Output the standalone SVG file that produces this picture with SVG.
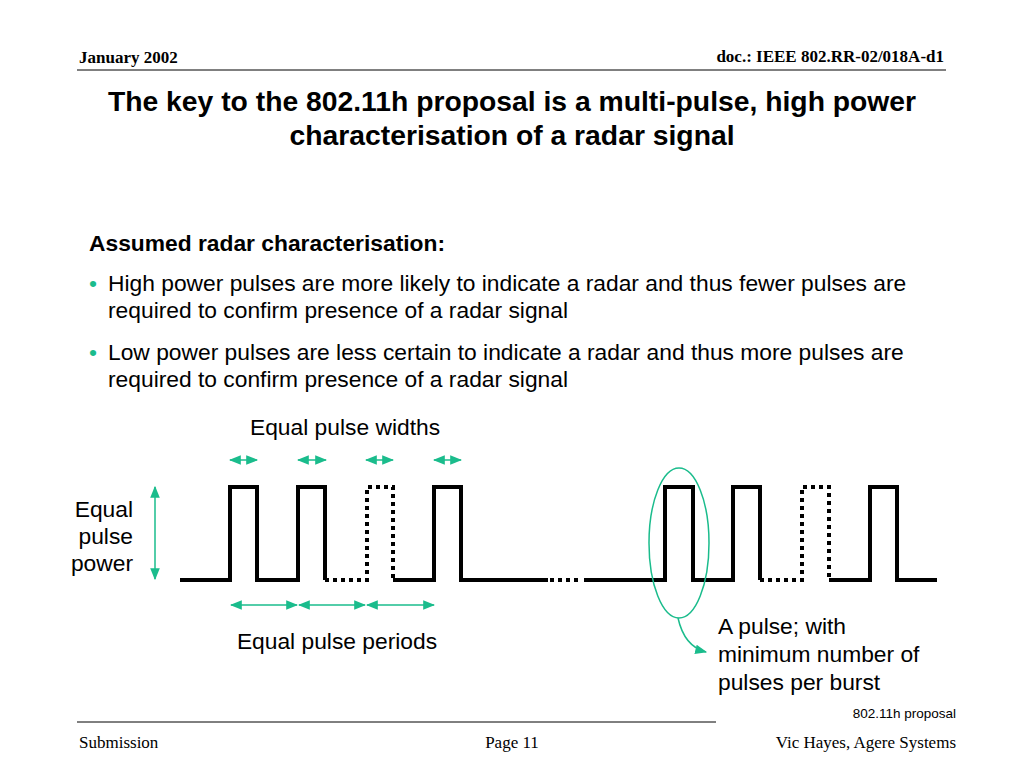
<svg xmlns="http://www.w3.org/2000/svg" width="1024" height="768" viewBox="0 0 1024 768">
<style>
.t{font-family:"Liberation Serif",serif;font-weight:bold;font-size:17px}
.f{font-family:"Liberation Serif",serif;font-size:17px}
.s{font-family:"Liberation Sans",Arial,sans-serif;font-size:22.8px}
.h{font-family:"Liberation Sans",Arial,sans-serif;font-size:28.3px;font-weight:bold}
.w{fill:none;stroke:#000;stroke-width:4}
.d{fill:none;stroke:#000;stroke-width:4;stroke-dasharray:4 4}
.a{stroke:#1abc8c;stroke-width:1.5;fill:none}
</style>
<defs><marker id="m" viewBox="0 0 10 10" refX="9" refY="5" markerWidth="8" markerHeight="8" orient="auto-start-reverse"><path d="M0,1L10,5L0,9z" fill="#1abc8c"/></marker></defs>
<rect width="1024" height="768" fill="#fff"/>
<g id="header">
<text class="t" x="79" y="63">January 2002</text>
<text class="t" x="944" y="62" text-anchor="end">doc.: IEEE 802.RR-02/018A-d1</text>
<line x1="77" y1="70" x2="946" y2="70" stroke="#000" stroke-width="1"/>
</g>
<g id="title">
<text class="h" x="512" y="111" text-anchor="middle">The key to the 802.11h proposal is a multi-pulse, high power</text>
<text class="h" x="512" y="145" text-anchor="middle">characterisation of a radar signal</text>
</g>
<g id="body">
<text class="s" x="89" y="251" font-weight="bold">Assumed radar characterisation:</text>
<text class="s" x="89" y="291"><tspan fill="#1abc8c">•</tspan></text>
<text class="s" x="108" y="291">High power pulses are more likely to indicate a radar and thus fewer pulses are</text>
<text class="s" x="108" y="318">required to confirm presence of a radar signal</text>
<text class="s" x="89" y="360"><tspan fill="#1abc8c">•</tspan></text>
<text class="s" x="108" y="360">Low power pulses are less certain to indicate a radar and thus more pulses are</text>
<text class="s" x="108" y="387">required to confirm presence of a radar signal</text>
</g>
<g id="waveform">
<path class="w" d="M180,580H230V487H257V580H298V487H325V580"/>
<path class="d" d="M325,580H367V487H393V580"/>
<path class="w" d="M393,580H434V487H461V580H548"/>
<path class="d" d="M550,580H582"/>
<path class="w" d="M584,580H665V487H693V580H733V487H760V580"/>
<path class="d" d="M760,580H802V487H829V580"/>
<path class="w" d="M829,580H870V487H897V580H937"/>
</g>
<g id="connectors">
<line class="a" x1="230" y1="460" x2="257" y2="460" marker-start="url(#m)" marker-end="url(#m)"/>
<line class="a" x1="298" y1="460" x2="326" y2="460" marker-start="url(#m)" marker-end="url(#m)"/>
<line class="a" x1="366" y1="460" x2="393" y2="460" marker-start="url(#m)" marker-end="url(#m)"/>
<line class="a" x1="434" y1="460" x2="461" y2="460" marker-start="url(#m)" marker-end="url(#m)"/>
<line class="a" x1="231" y1="605" x2="297" y2="605" marker-start="url(#m)" marker-end="url(#m)"/>
<line class="a" x1="299" y1="605" x2="365" y2="605" marker-start="url(#m)" marker-end="url(#m)"/>
<line class="a" x1="367" y1="605" x2="434" y2="605" marker-start="url(#m)" marker-end="url(#m)"/>
<line class="a" x1="155" y1="487" x2="155" y2="579" marker-start="url(#m)" marker-end="url(#m)"/>
<ellipse class="a" cx="679" cy="543" rx="30" ry="75"/>
<path class="a" d="M678,618C682,636 690,648 706,652" marker-end="url(#m)"/>
</g>
<g id="labels">
<text class="s" x="345" y="435" text-anchor="middle">Equal pulse widths</text>
<text class="s" x="337" y="649" text-anchor="middle">Equal pulse periods</text>
<text class="s" x="133" y="517" text-anchor="end">Equal</text>
<text class="s" x="133" y="544" text-anchor="end">pulse</text>
<text class="s" x="133" y="571" text-anchor="end">power</text>
<text class="s" x="718" y="634">A pulse; with</text>
<text class="s" x="718" y="662">minimum number of</text>
<text class="s" x="718" y="690">pulses per burst</text>
</g>
<g id="footer">
<text x="956" y="718" text-anchor="end" font-family="Liberation Sans,sans-serif" font-size="13.5">802.11h proposal</text>
<line x1="77" y1="722" x2="716" y2="722" stroke="#000" stroke-width="1"/>
<text class="f" x="79" y="748">Submission</text>
<text class="f" x="512" y="748" text-anchor="middle">Page 11</text>
<text class="f" x="956" y="748" text-anchor="end">Vic Hayes, Agere Systems</text>
</g>
</svg>
